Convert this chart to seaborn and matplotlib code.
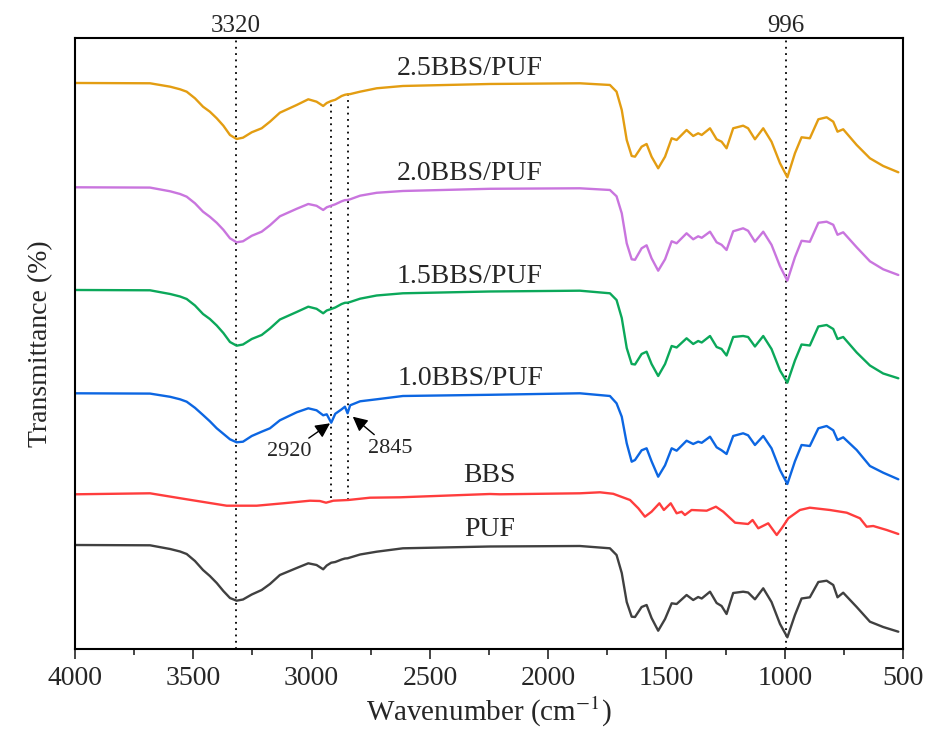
import numpy as np
import pandas as pd
import matplotlib
matplotlib.use("Agg")
import matplotlib.pyplot as plt
import matplotlib.transforms as mtransforms
from matplotlib.ticker import MultipleLocator
import seaborn as sns

# ------------------------------------------------------------
# data (drops below each baseline)
# ------------------------------------------------------------
wn_puf = [4000, 3683, 3598, 3556, 3528, 3493, 3459, 3430, 3401, 3373, 3345, 3317, 3290, 3253, 3211,
          3176, 3134, 3063, 3014,
          2979, 2951, 2936, 2917, 2900, 2873, 2859, 2848, 2837, 2795, 2725,
          2614, 2246, 1866,
          1739, 1711, 1689, 1668, 1647, 1633, 1605, 1584, 1563, 1535,
          1506, 1478, 1457, 1415, 1387, 1366, 1351, 1316, 1288, 1267, 1246, 1218,
          1176, 1155, 1126, 1091, 1056, 1020, 989, 957, 929, 894,
          858, 823, 795, 777, 753, 696, 640, 584, 520]

drop_25 = [0, 0.3, 3.7, 6.3, 8.7, 15.3, 23.7, 28.7, 35.3, 42.7, 52, 56, 54.7, 49.3, 45.3,
           38.7, 29.7, 22, 16.3,
           18.7, 23, 20, 18, 16.8, 13, 11.8, 11.3, 11.1, 8.7, 5.3,
           3, 1, 0.3,
           2, 8.7, 27, 57, 73, 73.7, 63.7, 61, 73.7, 85.3,
           73.7, 55.3, 57, 47, 53, 50.3, 52, 45.3, 56.3, 58.7, 65.3, 45.3,
           42.7, 45.3, 56.3, 45.3, 58.7, 80.3, 94.3, 70.3, 54.3, 55.3,
           36.3, 34.3, 38.7, 48.7, 46.3, 62, 75.3, 83, 89.3]

drop_20 = [0, 0.3, 4, 6.7, 9.4, 16, 24.4, 29.5, 35.5, 42.5, 51, 55, 54, 48.5, 44.4,
           38, 29, 21.5, 16.7,
           18.5, 22.7, 20, 18.4, 17, 14, 12.8, 12.7, 12, 8.4, 5.5,
           3.7, 1.5, 1,
           2.7, 9, 26, 56, 72, 72.5, 61, 58, 71, 83.4,
           72, 54, 56, 46, 52, 49, 50.5, 44.4, 55, 57.5, 62.7, 44,
           41, 43.5, 54.4, 44.4, 57.5, 79, 93.4, 70, 53.5, 54.5,
           35.5, 34.4, 37.5, 47.5, 45, 60, 74, 82, 87.7]

drop_15 = [0, 0.3, 4, 6.5, 9, 15.5, 24, 29, 35.5, 43, 52, 55.7, 54.5, 49, 45,
           38.5, 29.5, 22, 16.7,
           18.8, 23.3, 20.5, 19, 17.5, 14, 12.8, 12.7, 12, 8.7, 5.5,
           3.3, 1.5, 0.7,
           3.3, 10, 28, 58, 74, 74.5, 64, 61.7, 74, 86,
           74, 56, 57.5, 48.3, 54, 51, 52.5, 46, 57, 59, 65.5, 47,
           46, 47, 56.5, 46, 59, 80.5, 92.7, 70.5, 54.5, 55.5,
           36.5, 35, 39, 49, 47, 62.5, 75.5, 83.5, 88.3]

drop_10 = [0, 0.3, 3.5, 6, 8.4, 14.5, 21.7, 28, 35, 40.5, 46, 49, 48.4, 42.7, 38.4,
           35, 27, 19, 15,
           17, 22, 21, 29.4, 20.5, 16, 13.4, 20, 12, 8, 6,
           2.7, 1.5, 0,
           2.7, 10, 23.4, 50, 68.4, 66.7, 57, 55, 68, 83.4,
           72, 55, 57.4, 47.4, 50.7, 48.4, 49.5, 43.4, 54, 57, 60.7, 42.7,
           40, 42, 51.7, 42.7, 55, 76.7, 90.7, 68, 51.7, 52.7,
           35, 32.7, 37, 46.7, 44, 56.7, 72.7, 79.4, 86]

drop_puf = [0, 0.3, 4, 6.5, 9, 16, 25, 31, 38, 46, 53, 55.7, 54.5, 49.5, 45,
            39, 30, 23, 18.3,
            20, 24.3, 20.5, 17.7, 17, 14.5, 13.5, 13.3, 12.5, 9.5, 6.7,
            3.3, 1.5, 1,
            3.3, 10, 28, 57, 71.7, 72, 62, 60, 73, 85.7,
            74, 58.3, 59, 50, 55, 52, 53.5, 46.7, 58, 61, 69, 48,
            46.7, 47.5, 54.3, 43.3, 57, 79, 92.3, 70, 53.5, 52.3,
            37, 35.7, 40, 52.3, 47.7, 62, 76.7, 82, 86.7]

wn_bbs = [4000, 3683, 3528, 3359, 3232, 3120, 3007, 2965, 2939, 2908, 2845, 2753, 2626, 2246, 2204,
          1866, 1781, 1725, 1654, 1619, 1591, 1563, 1530, 1511, 1482, 1457, 1436, 1422, 1394,
          1330, 1291, 1260, 1210, 1155, 1136, 1112, 1070, 1034, 1013, 985, 936, 894, 809,
          738, 682, 654, 626, 569, 520]
drop_bbs = [0.3, -0.7, 5.3, 11.7, 11.7, 9.3, 6.7, 7, 8.7, 6.7, 6, 3.7, 3.3, 0, 0.3,
            -0.7, -1.7, -0.2, 6, 14.3, 22.7, 17.7, 9.3, 16, 9.3, 19.3, 17.7, 21, 16,
            16.7, 12.7, 17.7, 28.7, 30, 26, 34.3, 29.3, 41, 34.3, 24.3, 16, 13.7, 16,
            18.7, 24.3, 32.7, 32, 36, 40]

samples = ["2.5BBS/PUF", "2.0BBS/PUF", "1.5BBS/PUF", "1.0BBS/PUF", "BBS", "PUF"]
offsets = [566, 461.7, 359, 255.7, 155, 104]
colors = ["#E39D12", "#C975DE", "#0BA85A", "#0C66E2", "#FF3D3D", "#404040"]

peaks_main = [3320, 996]
peaks_ch = [2920, 2845]

# ------------------------------------------------------------
# long table
# ------------------------------------------------------------
curves = [(wn_puf, drop_25), (wn_puf, drop_20), (wn_puf, drop_15),
          (wn_puf, drop_10), (wn_bbs, drop_bbs), (wn_puf, drop_puf)]
frames = []
for name, (wn, dr), off in zip(samples, curves, offsets):
    frames.append(pd.DataFrame({"wavenumber": wn,
                                "transmittance": off - np.array(dr),
                                "sample": name}))
df = pd.concat(frames, ignore_index=True)

# ------------------------------------------------------------
# plot
# ------------------------------------------------------------
sns.set_theme(style="white")
plt.rcParams["font.family"] = ["Liberation Serif", "DejaVu Serif"]
plt.rcParams["mathtext.fontset"] = "stix"

fig = plt.figure(figsize=(9.33, 7.36), dpi=100)
ax = fig.add_axes([0.0804, 0.1182, 0.8875, 0.8302])

sns.lineplot(data=df, x="wavenumber", y="transmittance", hue="sample",
             palette=dict(zip(samples, colors)), estimator=None, sort=False,
             legend=False, linewidth=1.7, ax=ax)

ax.set_xlim(4000, 500)
ax.set_ylim(0, 611)

dots = (0, (1, 2.5))
for p in peaks_main:
    ax.axvline(p, color="black", lw=1.3, ls=dots, zorder=0)
ax.vlines(peaks_ch[0], 151, 549, color="black", lw=1.3, ls=dots, zorder=0)
ax.vlines(peaks_ch[1], 149, 556, color="black", lw=1.3, ls=dots, zorder=0)

trans = mtransforms.blended_transform_factory(ax.transData, ax.transAxes)
for p in peaks_main:
    ax.text(p, 1.01, str(p), transform=trans, ha="center", va="baseline", fontsize=18)

# sample names above each curve
label_x = [2330, 2330, 2330, 2330, 2248, 2248]
label_pad = [8, 7, 7, 8, 12, 9]
for name, off, lx, pad in zip(samples, offsets, label_x, label_pad):
    ax.text(lx, off + pad, name, ha="center", va="baseline", fontsize=20)

# arrows for the C-H bands
arrow = dict(arrowstyle="-|>", color="black", lw=1.0, mutation_scale=22, shrinkA=1, shrinkB=0)
ax.annotate("2920", xy=(2922, 225.7), xytext=(3094, 197.3), ha="center", va="center",
            fontsize=16, arrowprops=arrow)
ax.annotate("2845", xy=(2826, 232.3), xytext=(2666, 200.7), ha="center", va="center",
            fontsize=16, arrowprops=arrow)

ax.xaxis.set_major_locator(MultipleLocator(500))
ax.xaxis.set_minor_locator(MultipleLocator(250))
ax.tick_params(axis="x", which="major", direction="out", length=7, width=1.2,
               labelsize=20, bottom=True, top=False, pad=5)
ax.tick_params(axis="x", which="minor", direction="out", length=4, width=1.2,
               bottom=True, top=False)
ax.set_yticks([])
for s in ax.spines.values():
    s.set_color("black")
    s.set_linewidth(1.5)

ax.set_xlabel("Wavenumber (cm$^{-1}$)", fontsize=21, labelpad=3)
ax.set_ylabel("Transmittance (%)", fontsize=20, labelpad=16)

fig.savefig("out.png", dpi=100)
